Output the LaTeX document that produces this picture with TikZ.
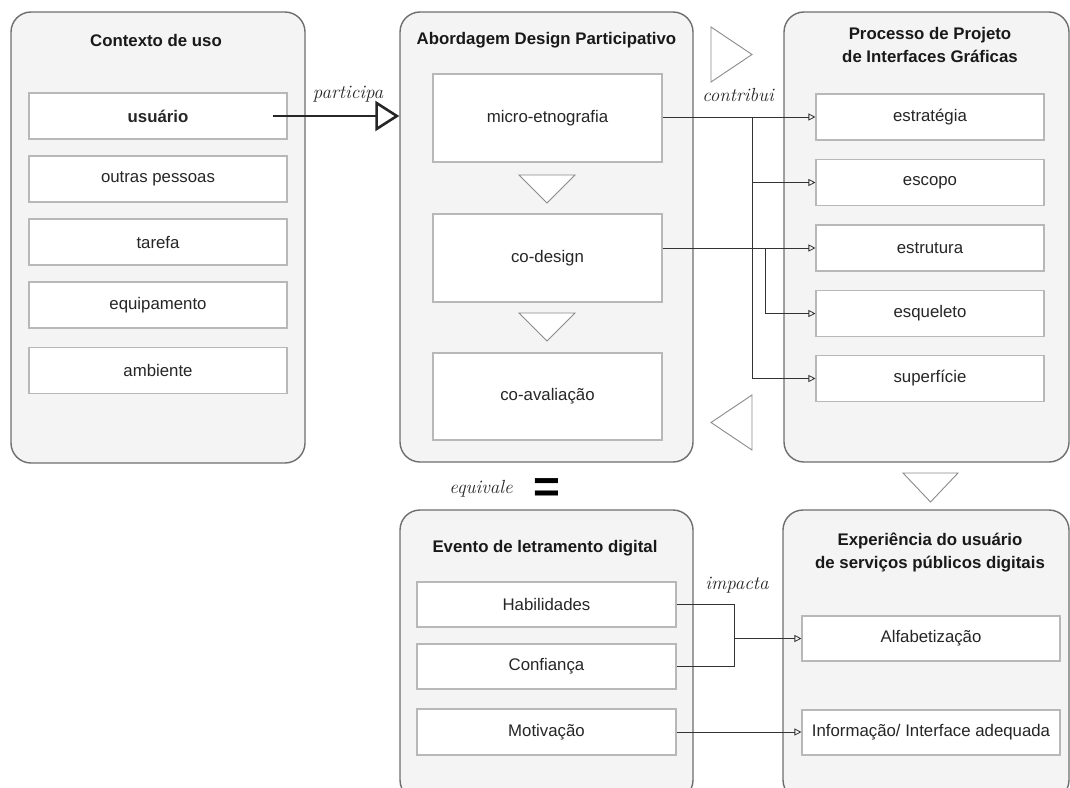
\documentclass[tikz,border=0pt]{standalone}
\usepackage{fontspec}
\setsansfont{Liberation Sans}
\renewcommand{\familydefault}{\sfdefault}
\usetikzlibrary{arrows.meta}
\definecolor{pfill}{HTML}{F4F4F4}
\definecolor{pline}{HTML}{6E6E6E}
\definecolor{bline}{HTML}{B8B8B8}
\definecolor{cline}{HTML}{333333}
\definecolor{tline}{HTML}{8A8A8A}
\begin{document}
\begin{tikzpicture}[x=1pt,y=-1pt,
  panel/.style={draw=pline,fill=pfill,line width=1.4pt,rounded corners=20pt,inner sep=0pt},
  ibox/.style={draw=bline,fill=white,line width=1.1pt,inner sep=0pt,
    font=\fontsize{16.8}{20}\selectfont,text=black!85},
  ptitle/.style={font=\fontsize{16.8}{23}\selectfont\bfseries,align=center,text=black!90},
  hand/.style={font=\fontsize{19}{22}\selectfont\rmfamily\itshape,text=black!85},
  conn/.style={draw=cline,line width=0.8pt},
  arr/.style={conn,-{Triangle[open,length=7pt,width=7pt]}},
  bigarr/.style={draw=black!85,line width=2.6pt,-{Triangle[open,length=24pt,width=30pt,line width=2.6pt]}},
  tri/.style={draw=tline,fill=white,line width=0.9pt,line join=miter}
]
\useasboundingbox (0,0) rectangle (1070,787);
\clip (0,0) rectangle (1070,787);

% ---------- panels ----------
\node[panel,minimum width=294pt,minimum height=451pt] (p1) at (158,237.5) {};
\node[panel,minimum width=293pt,minimum height=450pt] (p2) at (546.5,237) {};
\node[panel,minimum width=285pt,minimum height=450pt] (p3) at (926.5,237) {};
\node[panel,minimum width=293pt,minimum height=290pt] (p4) at (546.5,655) {};
\node[panel,minimum width=286pt,minimum height=290pt] (p5) at (926,655) {};

% ---------- titles ----------
\node[ptitle] (t1) at (156,40) {Contexto de uso};
\node[ptitle] (t2) at (546.5,40) {Abordagem Design Participativo};
\node[ptitle] (t3) at (930,44.5) {Processo de Projeto\\de Interfaces Gráficas};
\node[ptitle] (t4) at (545,548) {Evento de letramento digital};
\node[ptitle] (t5) at (930,552) {Experiência do usuário\\de serviços públicos digitais};

% ---------- panel 1 boxes ----------
\foreach \n/\y/\t in {usuario/116/\textbf{usuário},outras/179/outras pessoas,tarefa/242/tarefa,equip/305/equipamento,amb/370.5/ambiente}
  \node[ibox,minimum width=258pt,minimum height=46pt] (\n) at (158,\y) {\t};

% ---------- panel 2 boxes ----------
\node[ibox,minimum width=229pt,minimum height=88pt] (micro) at (547.5,118) {micro-etnografia};
\node[ibox,minimum width=229pt,minimum height=88pt] (codes) at (547.5,258) {co-design};
\node[ibox,minimum width=229pt,minimum height=87pt] (coav) at (547.5,396.5) {co-avaliação};
\draw[tri] (519,175) -- (575,175) -- (547,203) -- cycle;
\draw[tri] (519,313) -- (575,313) -- (547,341) -- cycle;

% ---------- panel 3 boxes ----------
\foreach \n/\y/\t in {estr/117/estratégia,escopo/182.5/escopo,estrut/248/estrutura,esquel/313.5/esqueleto,superf/378.5/superfície}
  \node[ibox,minimum width=228pt,minimum height=46pt] (\n) at (930,\y) {\t};

% ---------- panel 4 boxes ----------
\node[ibox,minimum width=259pt,minimum height=45pt] (hab) at (546.5,604.5) {Habilidades};
\node[ibox,minimum width=259pt,minimum height=45pt] (conf) at (546.5,666.5) {Confiança};
\node[ibox,minimum width=259pt,minimum height=46pt] (motiv) at (546.5,732) {Motivação};

% ---------- panel 5 boxes ----------
\node[ibox,minimum width=258pt,minimum height=45pt] (alfa) at (931,638.5) {Alfabetização};
\node[ibox,minimum width=258pt,minimum height=45pt] (info) at (931,732.5) {Informação/ Interface adequada};

% ---------- big triangles ----------
\draw[tri] (711,27) -- (711,82) -- (752,54.5) -- cycle;
\draw[tri] (752,395) -- (752,450) -- (711,422.5) -- cycle;
\draw[tri] (903,473) -- (958,473) -- (930.5,502) -- cycle;

% ---------- connectors ----------
\draw[bigarr] ([xshift=-15pt]usuario.east) -- (usuario.east -| p2.west);

\coordinate (tr1) at (752,117);
\coordinate (tr2) at (765,248);
\draw[arr] (micro.east |- estr.west) -- (estr.west);
\draw[arr] (tr1) |- (escopo.west);
\draw[arr] (tr1) |- (superf.west);
\draw[arr] (codes.east |- estrut.west) -- (estrut.west);
\draw[arr] (tr2) |- (esquel.west);

\coordinate (jn) at (734,638.5);
\draw[conn] (hab.east) -| (jn) |- (conf.east);
\draw[arr] (jn) -- (alfa.west);
\draw[arr] (motiv.east) -- (motiv.east -| info.west);

% ---------- labels ----------
\node[hand] (lpart) at (348,94) {participa};
\node[hand] (lcontr) at (738,95) {contribui};
\node[hand] (limp) at (737,585) {impacta};
\node[hand] (lequiv) at (481,489) {equivale};
\node[font=\fontsize{46}{46}\selectfont\bfseries,text=black] (eq) at (547,491) {=};
\end{tikzpicture}
\end{document}
